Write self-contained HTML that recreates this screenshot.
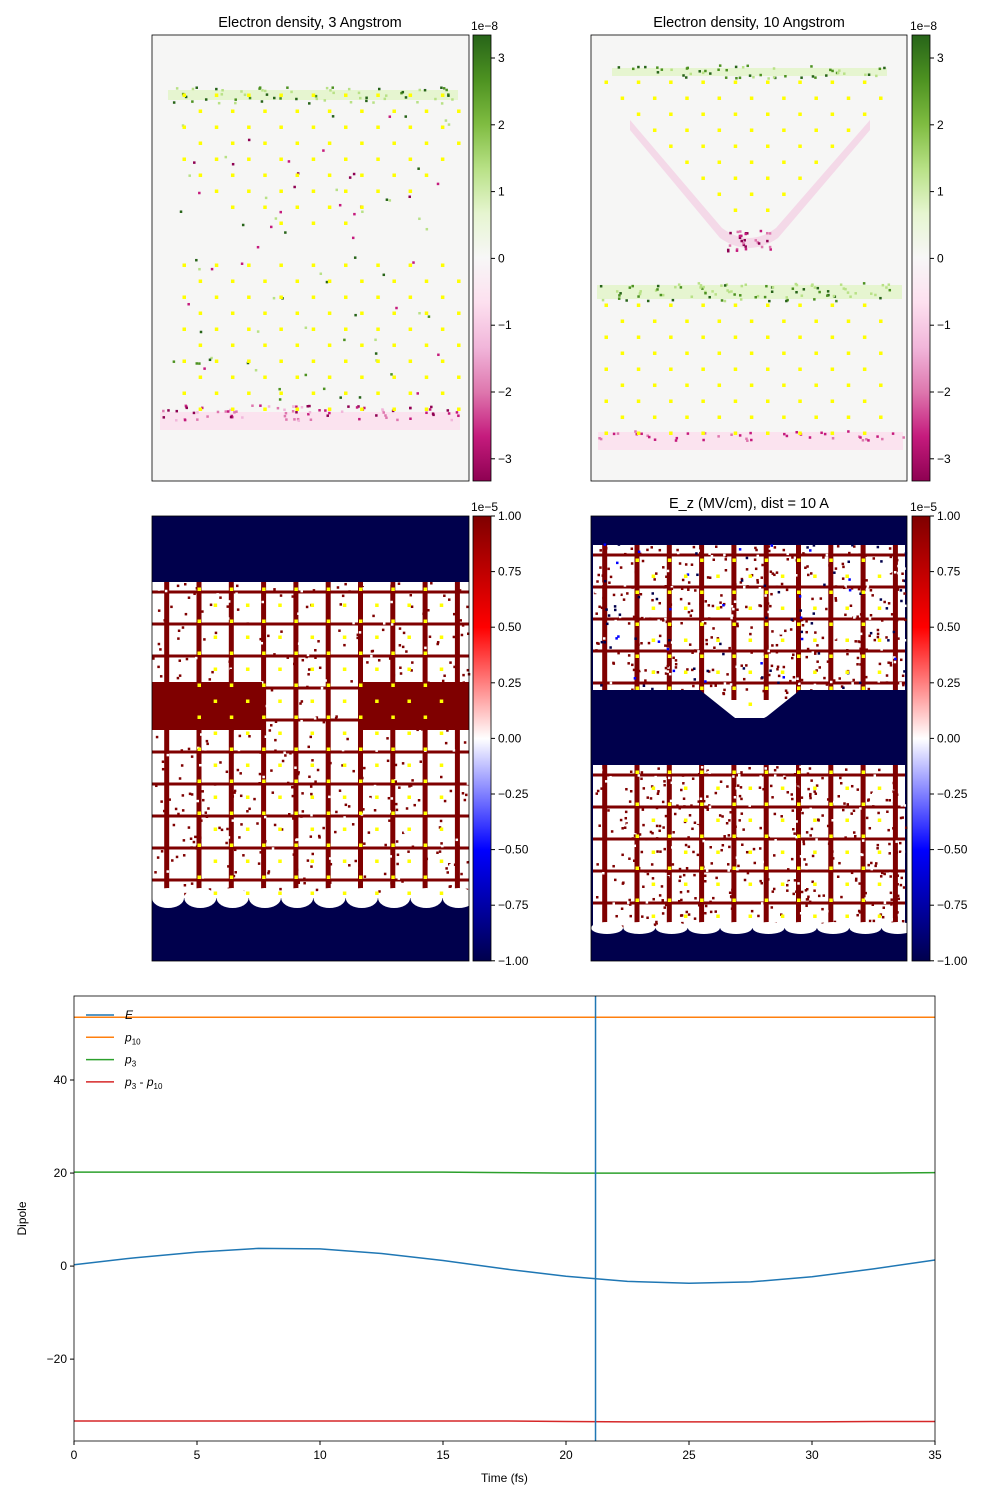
<!DOCTYPE html>
<html><head><meta charset="utf-8">
<style>
body{margin:0;background:#fff;font-family:"Liberation Sans","DejaVu Sans",sans-serif;}
svg text{font-family:"Liberation Sans","DejaVu Sans",sans-serif;}
</style></head>
<body>
<svg id="fig" width="1000" height="1500" viewBox="0 0 1000 1500" xmlns="http://www.w3.org/2000/svg">
<defs>
<linearGradient id="piyg" x1="0" y1="0" x2="0" y2="1">
<stop offset="0" stop-color="#276419"/><stop offset="0.1" stop-color="#4d9221"/><stop offset="0.2" stop-color="#7fbc41"/><stop offset="0.3" stop-color="#b8e186"/><stop offset="0.4" stop-color="#e6f5d0"/><stop offset="0.5" stop-color="#f7f7f7"/><stop offset="0.6" stop-color="#fde0ef"/><stop offset="0.7" stop-color="#f1b6da"/><stop offset="0.8" stop-color="#de77ae"/><stop offset="0.9" stop-color="#c51b7d"/><stop offset="1" stop-color="#8e0152"/>
</linearGradient>
<linearGradient id="seis" x1="0" y1="0" x2="0" y2="1">
<stop offset="0" stop-color="#7f0000"/><stop offset="0.25" stop-color="#ff0000"/><stop offset="0.5" stop-color="#ffffff"/><stop offset="0.75" stop-color="#0000ff"/><stop offset="1" stop-color="#00004c"/>
</linearGradient>
</defs>
<g id="panels"></g>
<g id="linechart"></g>
</svg>
<script>
// ---- line chart data ----
const times = [0,2.5,5,7.5,10,12.5,15,17.5,20,22.5,25,27.5,30,32.5,35];
const eField = [0.3,1.8,3.0,3.8,3.7,2.7,1.2,-0.6,-2.2,-3.3,-3.7,-3.4,-2.3,-0.6,1.3];
const p10 = [53.5,53.5,53.5,53.5,53.5,53.5,53.5,53.5,53.5,53.5,53.5,53.5,53.5,53.5,53.5];
const p3 = [20.2,20.2,20.2,20.2,20.2,20.2,20.2,20.1,20.0,20.0,20.0,20.0,20.0,20.0,20.1];
const pdiff = [-33.3,-33.3,-33.3,-33.3,-33.3,-33.3,-33.3,-33.3,-33.4,-33.5,-33.5,-33.5,-33.5,-33.4,-33.4];
const xTicks = [0,5,10,15,20,25,30,35];
const yTicks = [-20,0,20,40];
const vLineT = 21.2;
const legendLabels = ['E','p10','p3','p3 - p10'];
const seriesColors = ['#1f77b4','#ff7f0e','#2ca02c','#d62728'];

const NS='http://www.w3.org/2000/svg';
function mk(tag,attrs,parent){const e=document.createElementNS(NS,tag);for(const k in attrs)e.setAttribute(k,attrs[k]);parent.appendChild(e);return e;}

const L=74,R=935,T=996,B=1441,X0=0,X1=35,Y0=-37.6,Y1=58.06;
const xs=t=>L+(t-X0)/(X1-X0)*(R-L);
const ys=v=>B-(v-Y0)/(Y1-Y0)*(B-T);
const lc=document.getElementById('linechart');
const frame=mk('rect',{x:L,y:T,width:R-L,height:B-T,fill:'#fff',stroke:'none'},lc);


[eField,p10,p3,pdiff].forEach((s,i)=>{
  const d=s.map((v,j)=>(j?'L':'M')+xs(times[j]).toFixed(1)+' '+ys(v).toFixed(1)).join(' ');
  const p=mk('path',{d:d,fill:'none',stroke:seriesColors[i],'stroke-width':1.5},lc);
  
  
});
const vl=mk('line',{x1:xs(vLineT),x2:xs(vLineT),y1:T,y2:B,stroke:'#1f77b4','stroke-width':1.5},lc);


const bd=mk('rect',{x:L,y:T,width:R-L,height:B-T,fill:'none',stroke:'#000','stroke-width':0.8},lc);


xTicks.forEach(t=>{
  mk('line',{x1:xs(t),x2:xs(t),y1:B,y2:B+4,stroke:'#000'},lc);
  const tx=mk('text',{x:xs(t),y:B+18,'font-size':12,'text-anchor':'middle'},lc);tx.textContent=t;
  
  
});
yTicks.forEach(v=>{
  mk('line',{x1:L-4,x2:L,y1:ys(v),y2:ys(v),stroke:'#000'},lc);
  const tx=mk('text',{x:L-7,y:ys(v)+4,'font-size':12,'text-anchor':'end'},lc);tx.textContent=v<0?'\u2212'+(-v):v;
  
  
});
const xt=mk('text',{x:(L+R)/2,y:1482,'font-size':12,'text-anchor':'middle'},lc);xt.textContent='Time (fs)';


const yt=mk('text',{x:26,y:(T+B)/2,'font-size':12,'text-anchor':'middle',transform:'rotate(-90 26 '+(T+B)/2+')'},lc);yt.textContent='Dipole';


const legHtml=['<tspan font-style="italic">E</tspan>','<tspan font-style="italic">p</tspan><tspan font-size="8" dy="3">10</tspan>','<tspan font-style="italic">p</tspan><tspan font-size="8" dy="3">3</tspan>','<tspan font-style="italic">p</tspan><tspan font-size="8" dy="3">3</tspan><tspan dy="-3"> - </tspan><tspan font-style="italic">p</tspan><tspan font-size="8" dy="3">10</tspan>'];
legendLabels.forEach((lab,i)=>{
  const y=1015+i*22.3;
  const g=mk('g',{},lc);
  
  
  mk('line',{x1:86,x2:114,y1:y,y2:y,stroke:seriesColors[i],'stroke-width':1.5},g);
  const t=mk('text',{x:125,y:y+4,'font-size':12},g);t.innerHTML=legHtml[i];
});

// ---- heatmap panels (decorative image approximations) ----
const pg=document.getElementById('panels');
function dots(g,x0,y0,cols,rows,dx,dy,filter){
  for(let r=0;r<rows;r++)for(let c=0;c<cols;c++){
    const off=(r%2)?dx/2:0;const x=x0+c*dx+off,y=y0+r*dy;
    if(filter&&!filter(x,y))continue;
    mk('rect',{x:x-1.5,y:y-1.5,width:3.5,height:3.5,fill:'#ffff00'},g);
  }
}
function speckle(g,x0,x1,y0,y1,n,colors,seed){
  let s=seed;const rnd=()=>{s=(s*9301+49297)%233280;return s/233280;};
  for(let i=0;i<n;i++){mk('rect',{x:x0+rnd()*(x1-x0),y:y0+rnd()*(y1-y0),width:2.5,height:2.5,fill:colors[Math.floor(rnd()*colors.length)]},g);}
}
function colorbar(x,y,h,grad,ticks,tickY,exp){
  const g=mk('g',{},pg);
  
  
  mk('rect',{x:x,y:y,width:18,height:h,fill:'url(#'+grad+')',stroke:'#000','stroke-width':0.8},g);
  ticks.forEach((t,i)=>{const yy=tickY(i);mk('line',{x1:x+18,x2:x+22,y1:yy,y2:yy,stroke:'#000'},g);
    const tx=mk('text',{x:x+25,y:yy+4,'font-size':12},g);tx.textContent=t;});
  const e=mk('text',{x:x-2,y:y-5,'font-size':12},g);e.textContent=exp;
}
function title(x,y,s){const t=mk('text',{x:x,y:y,'font-size':14.5,'text-anchor':'middle'},pg);t.textContent=s;
  
  }

// Panel 1
(function(){
  const g=mk('g',{},pg);
  mk('rect',{x:152,y:35,width:317,height:446,fill:'#f6f6f5'},g);
  mk('rect',{x:168,y:90,width:290,height:10,fill:'#e6f5d0'},g);
  mk('rect',{x:160,y:412,width:300,height:18,fill:'#fbe3ef'},g);
  speckle(g,168,458,86,103,60,['#b8e186','#4d9221','#276419','#b8e186'],3);
  speckle(g,160,460,404,420,80,['#c51b7d','#8e0152','#de77ae','#f1b6da'],7);
  speckle(g,170,450,110,250,40,['#276419','#c51b7d','#8e0152','#b8e186'],11);
  speckle(g,170,450,255,400,40,['#276419','#c51b7d','#4d9221','#b8e186'],13);
  dots(g,184,95,9,9,32.3,16,(x,y)=>Math.abs(x-310)<150-(y>160?(y-160)*1.5:0));
  dots(g,184,265,9,10,32.3,16);
  mk('rect',{x:152,y:35,width:317,height:446,fill:'none',stroke:'#000','stroke-width':0.8},g);
})();
colorbar(473,35,446,'piyg',['3','2','1','0','\u22121','\u22122','\u22123'],i=>58+i*66.8,'1e\u22128');
title(310,27,'Electron density, 3 Angstrom');

// Panel 2
(function(){
  const g=mk('g',{},pg);
  mk('rect',{x:591,y:35,width:316,height:446,fill:'#f6f6f5'},g);
  mk('rect',{x:612,y:68,width:275,height:8,fill:'#e6f5d0'},g);
  mk('rect',{x:597,y:285,width:305,height:14,fill:'#e6f5d0'},g);
  mk('rect',{x:598,y:432,width:305,height:18,fill:'#fbe3ef'},g);
  mk('path',{d:'M630 120 L722 228 Q749 248 776 228 L870 120 L870 130 L778 238 Q749 258 720 238 L630 130 Z',fill:'#f1b6da',opacity:0.45},g);
  speckle(g,612,887,64,78,50,['#b8e186','#4d9221','#276419'],5);
  speckle(g,597,902,282,300,90,['#b8e186','#4d9221','#276419','#b8e186'],9);
  speckle(g,725,775,228,250,30,['#c51b7d','#8e0152','#de77ae'],17);
  speckle(g,598,903,430,440,40,['#c51b7d','#de77ae'],21);
  dots(g,606,82,9,9,32.3,16,(x,y)=>Math.abs(x-749)<165-(y-82)*1.1);
  dots(g,606,305,9,9,32.3,16);
  mk('rect',{x:591,y:35,width:316,height:446,fill:'none',stroke:'#000','stroke-width':0.8},g);
})();
colorbar(912,35,446,'piyg',['3','2','1','0','\u22121','\u22122','\u22123'],i=>58+i*66.8,'1e\u22128');
title(749,27,'Electron density, 10 Angstrom');

function block(g,x0,x1,y0,y1,xc,seed){
  mk('rect',{x:x0,y:y0,width:x1-x0,height:y1-y0,fill:'#ffffff'},g);
  for(let x=xc;x<x1;x+=32.3)mk('rect',{x:x-2.5,y:y0,width:5,height:y1-y0,fill:'#7f0000'},g);
  for(let x=xc-32.3;x>x0;x-=32.3)mk('rect',{x:x-2.5,y:y0,width:5,height:y1-y0,fill:'#7f0000'},g);
  for(let y=y0+10;y<y1;y+=32)mk('rect',{x:x0,y:y-1.5,width:x1-x0,height:3,fill:'#7f0000'},g);
  speckle(g,x0,x1,y0,y1,600,['#7f0000','#7f0000','#ffffff'],seed);
}
// Panel 3
(function(){
  const g=mk('g',{},pg);
  mk('rect',{x:152,y:516,width:317,height:445,fill:'#00004c'},g);
  block(g,152,469,582,898,199,31);
  mk('rect',{x:152,y:682,width:110,height:48,fill:'#7f0000'},g);
  mk('rect',{x:360,y:682,width:109,height:48,fill:'#7f0000'},g);
  for(let x=168;x<469;x+=32.3)mk('ellipse',{cx:x,cy:898,rx:16,ry:10,fill:'#fff'},g);
  dots(g,199,589,8,20,32.3,16);
  mk('rect',{x:152,y:516,width:317,height:445,fill:'none',stroke:'#000','stroke-width':0.8},g);
})();
colorbar(473,516,445,'seis',['1.00','0.75','0.50','0.25','0.00','\u22120.25','\u22120.50','\u22120.75','\u22121.00'],i=>516+i*55.6,'1e\u22125');

// Panel 4
(function(){
  const g=mk('g',{},pg);
  mk('rect',{x:591,y:516,width:316,height:445,fill:'#00004c'},g);
  block(g,593,905,545,708,637,41);
  mk('path',{d:'M593 700 L907 700 L907 708 L820 708 L770 715 L760 720 L738 720 L720 708 L593 708 Z',fill:'#fff'},g);
  mk('path',{d:'M591 690 L700 690 L735 718 L765 718 L800 690 L907 690 L907 760 L591 760 Z',fill:'#00004c'},g);
  speckle(g,593,905,540,690,90,['#00004c','#00004c','#0000ff'],55);
  block(g,593,905,765,928,637,61);
  for(let x=607;x<907;x+=32.3)mk('ellipse',{cx:x,cy:928,rx:16,ry:6,fill:'#fff'},g);
  dots(g,637,560,8,10,32.3,16,(x,y)=>y<690||Math.abs(x-749)<30);
  dots(g,637,772,8,10,32.3,16);
  mk('rect',{x:591,y:516,width:316,height:445,fill:'none',stroke:'#000','stroke-width':0.8},g);
})();
colorbar(912,516,445,'seis',['1.00','0.75','0.50','0.25','0.00','\u22120.25','\u22120.50','\u22120.75','\u22121.00'],i=>516+i*55.6,'1e\u22125');
title(749,508,'E_z (MV/cm), dist = 10 A');
</script>
</body></html>
